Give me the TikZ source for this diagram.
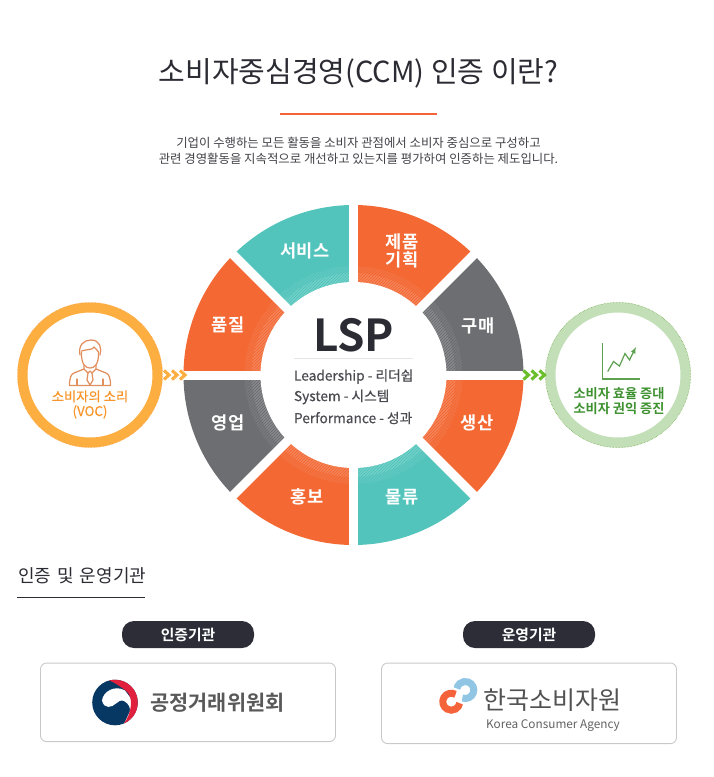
\documentclass[tikz,border=0pt]{standalone}
\usepackage{fontspec}
\setmainfont[BoldFont={Noto Sans CJK KR Bold}]{Noto Sans CJK KR}
\newfontfamily\medf[FakeBold=0.5]{Noto Sans CJK KR}
\usetikzlibrary{calc}
\definecolor{cOrange}{HTML}{F36833}
\definecolor{cTeal}{HTML}{52C4BC}
\definecolor{cGrey}{HTML}{6D6E71}
\definecolor{cAmber}{HTML}{FDAE40}
\definecolor{cAmberDark}{HTML}{F7952B}
\definecolor{cSage}{HTML}{C3DFB8}
\definecolor{cLeaf}{HTML}{3E9130}
\definecolor{cLime}{HTML}{6CBF2C}
\definecolor{cInk}{HTML}{2B2B33}
\definecolor{cPill}{HTML}{2D2D38}
\definecolor{cBorder}{HTML}{C9C9C9}
\definecolor{cNavy}{HTML}{073763}
\definecolor{cRed}{HTML}{E0203C}
\definecolor{cSky}{HTML}{90C5E4}
\definecolor{cCoral}{HTML}{F5633A}
\definecolor{cIcon}{HTML}{E28F5F}
\tikzset{
 x=1pt,y=1pt,
 txt/.style={inner sep=0pt,outer sep=0pt,align=center},
 wheellabel/.style={txt,text=white,font=\fontsize{17.6}{18.5}\selectfont\bfseries},
 lsptext/.style={txt,anchor=west,text=cInk!85,font=\fontsize{13.7}{15}\selectfont\medf},
 pill/.style={txt,rounded corners=12pt,fill=cPill,text=white,minimum width=132pt,minimum height=27pt,font=\fontsize{14.8}{16}\selectfont\bfseries},
 logobox/.style={txt,draw=cBorder,line width=.9pt,rounded corners=6pt,minimum width=295pt},
 ring/.style={line width=10pt},
 chev/.style={line width=3.1pt,miter limit=4},
}
\newcommand{\sector}[3]{\fill[#1] (#2:170) arc[start angle=#2,end angle=#3,radius=170] -- (0,0) -- cycle;}
\begin{document}
\begin{tikzpicture}
\useasboundingbox (0,0) rectangle (713,-777);
% heading
\node[txt,text=cInk,font=\fontsize{29}{32}\selectfont] (title) at (358.5,-73) {소비자중심경영(CCM) 인증 이란?};
\coordinate (ruleA) at (280,-114); \coordinate (ruleB) at (437,-114);
\draw[cCoral,line width=1.4pt] (ruleA) -- (ruleB);
\node[txt,text=cInk!90,font=\fontsize{12.4}{16}\selectfont] (intro) at (358.5,-151) {기업이 수행하는 모든 활동을 소비자 관점에서 소비자 중심으로 구성하고\\관련 경영활동을 지속적으로 개선하고 있는지를 평가하여 인증하는 제도입니다.};
% wheel
\begin{scope}[shift={(353.5,-375)}]
 \sector{cGrey}{0}{45}
 \sector{cOrange}{45}{90}
 \sector{cTeal}{90}{135}
 \sector{cOrange}{135}{180}
 \sector{cGrey}{180}{225}
 \sector{cOrange}{225}{270}
 \sector{cTeal}{270}{315}
 \sector{cOrange}{315}{360}
 \begin{scope}
  \clip (0,0) circle[radius=109];
  \foreach \k in {-65,...,65}
   \draw[white,opacity=.14,line width=.6pt] (\k*3-130,-130) -- (\k*3+130,130);
 \end{scope}
 \begin{scope}
  \clip (0,0) circle[radius=102];
  \foreach \k in {-65,...,65}
   \draw[white,opacity=.22,line width=.6pt] (\k*3-130,-130) -- (\k*3+130,130);
 \end{scope}
 \foreach \a in {0,45,90,135}
  \draw[white,line width=9pt] (\a:172) -- (\a+180:172);
 \fill[white] (0,0) circle[radius=93];
\end{scope}
\node[wheellabel] (n1) at (402,-251) {제품\\기획};
\node[wheellabel] (n2) at (478,-326) {구매};
\node[wheellabel] (n3) at (477,-423) {생산};
\node[wheellabel] (n4) at (402,-497) {물류};
\node[wheellabel] (n5) at (307,-497) {홍보};
\node[wheellabel] (n6) at (228,-423) {영업};
\node[wheellabel] (n7) at (228,-325) {품질};
\node[wheellabel] (n8) at (305,-251) {서비스};
\node[txt,text=cInk,font=\fontsize{44}{48}\selectfont\bfseries] (lsp) at (353.5,-335) {LSP};
\coordinate (lspA) at (294,-358.5); \coordinate (lspB) at (413,-358.5);
\draw[black!10,line width=.8pt] (lspA) -- (lspB);
\node[lsptext] (l1) at (294,-376.5) {Leadership - 리더쉽};
\node[lsptext] (l2) at (294,-397) {System - 시스템};
\node[lsptext] (l3) at (294,-418) {Performance - 성과};
% left circle
\node[txt,draw=cAmber,ring,circle,minimum size=135pt] (voc) at (90,-375) {};
\draw[cAmberDark,line width=.5pt,densely dotted] (90,-375) circle[radius=72.6];
\foreach \s in {0,8,16}
 \draw[cAmber,chev] (164+\s,-370.5) -- (169+\s,-375) -- (164+\s,-379.5);
% person
\begin{scope}[cIcon,line width=1.25pt,line join=round,line cap=round]
 \draw (81.5,-352) .. controls (81,-365) and (86,-368) .. (90,-368) .. controls (94,-368) and (99,-365) .. (98.5,-352);
 \draw (80,-355) .. controls (78,-345) and (84,-340) .. (91,-340) .. controls (100,-340) and (102,-348) .. (100,-355);
 \draw (81.5,-351) .. controls (88,-349) and (93,-350) .. (94,-347) .. controls (96,-349) and (98,-351) .. (98.5,-352);
 \draw (84,-365) -- (84,-369) -- (74,-373) .. controls (71,-374) and (69.5,-378) .. (69.5,-385.5) -- (110.5,-385.5) .. controls (110.5,-378) and (109,-374) .. (106,-373) -- (96,-369) -- (96,-365);
 \draw (84,-369) -- (88,-373) -- (90,-371) -- (92,-373) -- (96,-369);
 \draw (88,-373) -- (87,-380) -- (90,-385) -- (93,-380) -- (92,-373);
 \draw (77,-379) -- (77,-385.5) (103,-379) -- (103,-385.5);
\end{scope}
\node[txt,text=cAmberDark,font=\fontsize{13.3}{14.6}\selectfont\medf] (voct) at (90,-404.5) {소비자의 소리\\(VOC)};
% right circle
\node[txt,draw=cSage,ring,circle,minimum size=135pt] (eff) at (618,-375) {};
\draw[cLime!80!black,line width=.5pt,densely dotted] (618,-375) circle[radius=72.6];
\foreach \s in {0,8,16}
 \draw[cLime,chev] (523.5+\s,-370.5) -- (528.5+\s,-375) -- (523.5+\s,-379.5);
% chart
\coordinate (axT) at (602.8,-343); \coordinate (axO) at (602.8,-379); \coordinate (axR) at (640,-379);
\draw[cLeaf!85,line width=1.3pt] (axT) -- (axO) -- (axR);
\draw[cLeaf!85,line width=1.2pt,-latex] (607.7,-371.5) -- (613.5,-361.5) -- (619.5,-366) -- (625,-353.5) -- (629.5,-360) -- (636,-347);
\node[txt,text=cLeaf,font=\fontsize{13.2}{15}\selectfont\bfseries] (efft) at (619,-401.5) {소비자 효율 증대\\소비자 권익 증진};
% section
\node[txt,anchor=west,text=cInk,font=\fontsize{18}{18}\selectfont] (sec) at (18,-576) {\spaceskip=.34em\relax 인증 및 운영기관};
\coordinate (secA) at (17,-597.5); \coordinate (secB) at (145,-597.5);
\draw[cInk,line width=.8pt] (secA) -- (secB);
\node[pill] (p1) at (188,-634.5) {인증기관};
\node[pill] (p2) at (529,-634.5) {운영기관};
\node[logobox,minimum height=78.5pt] (b1) at (188,-702.3) {};
\node[logobox,minimum height=80.5pt] (b2) at (529,-703.3) {};
% taegeuk
\begin{scope}[shift={(115,-702.5)}]
 \fill[cNavy] (0,0) circle[radius=22.8];
 \fill[white] (-13,2) .. controls (-12,11) and (0,18) .. (10,12) -- (19,0) -- (9,-21.5) .. controls (15,-15) and (19,-4) .. (9,1.5) .. controls (6,3) and (3,1) .. (1,-1) .. controls (-3,-5) and (-11,-7) .. (-13,2) -- cycle;
 \fill[cRed] (105:22.8) arc[start angle=105,end angle=-67,radius=22.8] .. controls (16,-12) and (20,6) .. (10,12.5) .. controls (5,16) and (0,20) .. cycle;
\end{scope}
\node[txt,text=black!65,font=\fontsize{20.8}{23}\selectfont\bfseries] (ftc) at (217.5,-703) {공정거래위원회};
% KCA logo
\draw[cSky,line width=7pt] ($(465.3,-690)+(250:8.5)$) arc[start angle=250,end angle=530,radius=8.5];
\draw[cCoral,line width=7pt] ($(451.3,-701.7)+(60:8.5)$) arc[start angle=60,end angle=350,radius=8.5];
\node[txt,text=black!68,font=\fontsize{25}{27}\selectfont] (kca) at (552,-700) {한국소비자원};
\node[txt,text=black!62,font=\fontsize{11.8}{13}\selectfont] (kcae) at (553,-725.5) {Korea Consumer Agency};
\end{tikzpicture}
\end{document}
